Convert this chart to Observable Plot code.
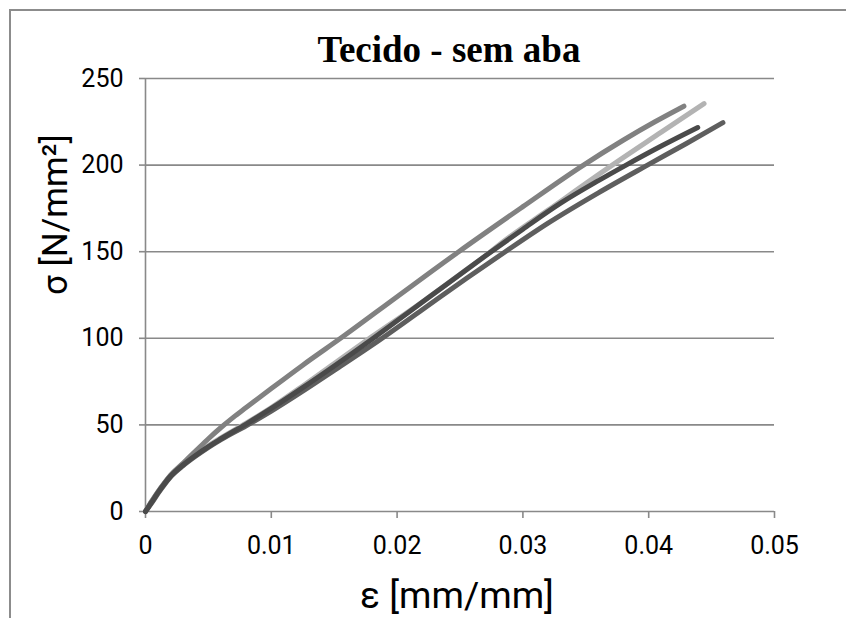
<!DOCTYPE html>
<html>
<head>
<meta charset="utf-8">
<script src="https://cdn.jsdelivr.net/npm/d3@7"></script>
<script src="https://cdn.jsdelivr.net/npm/@observablehq/plot@0.6"></script>
<style>
  html, body { margin: 0; padding: 0; background: #fff; overflow: hidden; }
  #wrap { position: relative; width: 846px; height: 618px; }
  #frame { position: absolute; left: 9px; top: 9px; right: 0; bottom: 0;
           border-left: 2px solid #8c8c8c; border-top: 2px solid #8c8c8c; pointer-events: none; }
</style>
</head>
<body>
<div id="wrap"><div id="frame"></div></div>
<script>
// ---- data ----
const titleText = "Tecido - sem aba";
const xLabel = "ε [mm/mm]";
const yLabel = "σ [N/mm²]";

const xTicks = [0, 0.01, 0.02, 0.03, 0.04, 0.05];
const xTickLabels = ["0", "0.01", "0.02", "0.03", "0.04", "0.05"];
const yTicks = [0, 50, 100, 150, 200, 250];

const seriesNames = ["B", "A", "D", "C"];
const seriesColors = ["#b3b3b3", "#818181", "#5e5e5e", "#4a4a4a"];

const epsA = [0, 0.0005, 0.001, 0.0015, 0.002, 0.003, 0.004, 0.005, 0.006, 0.007, 0.008, 0.010, 0.0125, 0.0157, 0.020, 0.0249, 0.030, 0.0346, 0.038, 0.0405, 0.0428];
const sigA = [0, 6, 11.5, 16.5, 21, 28, 35, 42, 48.5, 54.5, 60, 71, 84.5, 101, 124, 150, 176, 199, 214.5, 225, 234];

const epsB = [0, 0.0005, 0.001, 0.0015, 0.002, 0.003, 0.004, 0.005, 0.006, 0.008, 0.010, 0.0125, 0.015, 0.018, 0.022, 0.0252, 0.027, 0.0282, 0.032, 0.0371, 0.041, 0.0444];
const sigB = [0, 6, 11.5, 16.5, 21, 27.5, 33, 38, 42.5, 51, 60, 72.5, 85.5, 101, 121, 138, 147.5, 154.5, 174, 200, 219, 235.5];

const epsC = [0, 0.0005, 0.001, 0.0015, 0.002, 0.003, 0.004, 0.005, 0.006, 0.008, 0.010, 0.0125, 0.015, 0.018, 0.021, 0.024, 0.027, 0.030, 0.033, 0.036, 0.0382, 0.041, 0.0439];
const sigC = [0, 5.5, 11, 16, 20.5, 27, 32.5, 37.5, 42, 50.5, 59.5, 71.5, 84, 99.5, 115.5, 131.5, 147.5, 163, 178, 191, 200, 211, 221.7];

const epsD = [0, 0.0005, 0.001, 0.0015, 0.002, 0.003, 0.004, 0.005, 0.006, 0.008, 0.010, 0.0125, 0.015, 0.0185, 0.022, 0.0255, 0.0286, 0.032, 0.036, 0.0399, 0.043, 0.0459];
const sigD = [0, 5, 10.5, 15.5, 20, 26.5, 32, 37, 41.5, 49.5, 58, 69.5, 81.5, 98.5, 116.5, 134.5, 150, 166.5, 184, 200, 212.5, 224.5];

// ---- build table ----
const seriesData = { A: [epsA, sigA], B: [epsB, sigB], C: [epsC, sigC], D: [epsD, sigD] };
const rows = seriesNames.flatMap(name => {
  const [e, s] = seriesData[name];
  return e.map((v, i) => ({ series: name, eps: v, sig: s[i] }));
});

const gridColor = "#898989";
const tickFont = "Roboto, 'Open Sans', sans-serif";

const chart = Plot.plot({
  width: 846,
  height: 618,
  marginLeft: 145,
  marginRight: 72,
  marginTop: 78,
  marginBottom: 107,
  style: { fontFamily: tickFont, background: "transparent", color: "#000", overflow: "visible" },
  x: { domain: [0, 0.05] },
  y: { domain: [0, 250] },
  color: { domain: seriesNames, range: seriesColors },
  marks: [
    Plot.gridY(yTicks, { stroke: gridColor, strokeOpacity: 1, strokeWidth: 1.6 }),
    Plot.ruleX([0], { y1: 0, y2: 250, stroke: gridColor, strokeWidth: 1.6 }),
    Plot.axisY(yTicks, { tickSize: 6, tickPadding: 16, fontSize: 25, stroke: gridColor, strokeWidth: 1.6, label: null }),
    Plot.axisX(xTicks, { tickSize: 7, tickPadding: 18, fontSize: 25, stroke: gridColor, strokeWidth: 1.6, label: null,
      tickFormat: (d, i) => xTickLabels[i] }),
    Plot.line(rows, { x: "eps", y: "sig", z: "series", stroke: "series", strokeWidth: 5,
      strokeLinecap: "round", strokeLinejoin: "round", curve: "monotone-x" }),
    Plot.text([titleText], { text: d => d, frameAnchor: "top", dx: -11, dy: -28,
      fontFamily: "'Liberation Serif', 'Times New Roman', serif", fontWeight: "bold", fontSize: 37, lineAnchor: "middle" }),
    Plot.text([yLabel], { text: d => d, frameAnchor: "left", dx: -90, rotate: -90, fontSize: 35, lineAnchor: "middle" }),
    Plot.text([xLabel], { text: d => d, frameAnchor: "bottom", dx: -3, dy: 85, fontSize: 37, lineAnchor: "middle" })
  ]
});
const wrap = document.getElementById("wrap");
wrap.insertBefore(chart, wrap.firstChild);
</script>
</body>
</html>
